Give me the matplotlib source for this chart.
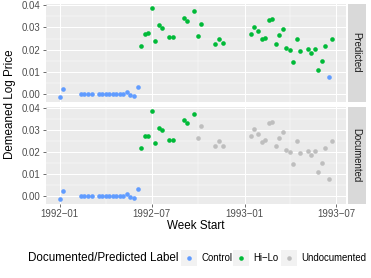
import matplotlib
matplotlib.use("Agg")
import matplotlib.pyplot as plt
import matplotlib.dates as mdates
from matplotlib.patches import Rectangle
from matplotlib.lines import Line2D
import numpy as np
import pandas as pd

plt.rcParams['font.family'] = ['Liberation Sans', 'DejaVu Sans']

# ---------------- data ----------------
week_index = [0, 1, 6, 7, 8, 9, 11, 12, 13, 14, 15, 16, 17, 18, 19, 20, 21, 22,
              23, 24, 25, 26, 27, 28, 29, 31, 32, 35, 36, 38, 39, 40, 44, 45, 46,
              54, 55, 56, 57, 58, 59, 60, 61, 62, 63, 64, 65, 66, 67, 68, 70, 71,
              72, 73, 74, 75, 76, 77]
log_price = [-0.0012, 0.0023, 0.0, 0.0, 0.0, 0.0, 0.0, 0.0, 0.0, 0.0, 0.0, 0.0,
             0.0, 0.0, 0.0009, -0.0003, -0.0006, 0.0033,
             0.0217, 0.0271, 0.0274, 0.0385, 0.0240, 0.0310, 0.0298, 0.0256,
             0.0256, 0.0342, 0.0330, 0.0372, 0.0262, 0.0316, 0.0226, 0.0249,
             0.0228,
             0.0271, 0.0304, 0.0282, 0.0247, 0.0253, 0.0331, 0.0337, 0.0226,
             0.0264, 0.0292, 0.0207, 0.0198, 0.0146, 0.0250, 0.0196, 0.0204,
             0.0186, 0.0204, 0.0110, 0.0150, 0.0216, 0.0080, 0.0250]
predicted_label = (['Control'] * 18 + ['Hi\u2212Lo'] * 17 + ['Hi\u2212Lo'] * 21
                   + ['Control', 'Hi\u2212Lo'])
documented_label = (['Control'] * 18 + ['Hi\u2212Lo'] * 12 + ['Undocumented'] * 5
                    + ['Undocumented'] * 23)

facet_names = ['Predicted', 'Documented']
label_levels = ['Control', 'Hi\u2212Lo', 'Undocumented']
label_colors = ['#619CFF', '#00BA38', '#BEBEBE']
x_tick_dates = ['1992-01-01', '1992-07-01', '1993-01-01', '1993-07-01']
x_tick_labels = ['1992\u221201', '1992\u221207', '1993\u221201', '1993\u221207']
x_minor_dates = ['1992-04-01', '1992-10-01', '1993-04-01']
y_ticks = [0.00, 0.01, 0.02, 0.03, 0.04]
y_tick_labels = ['0.00', '0.01', '0.02', '0.03', '0.04']
y_minor = [0.005, 0.015, 0.025, 0.035]

week_start = pd.Timestamp('1992-01-01') + pd.to_timedelta(np.array(week_index) * 7, unit='D')
df = pd.DataFrame({'week': week_start, 'price': log_price,
                   'Predicted': predicted_label, 'Documented': documented_label})

# ---------------- figure ----------------
W, H = 371, 278
fig = plt.figure(figsize=(W / 100, H / 100), dpi=100)
fig.patch.set_facecolor('white')

def fbox(x0, y0, x1, y1):
    return [x0 / W, 1 - y1 / H, (x1 - x0) / W, (y1 - y0) / H]

panels = [(4, 101.5), (106.5, 203.5)]
px0, px1 = 46, 346

xnum = mdates.date2num(df['week'])
xr = xnum.max() - xnum.min()
xlim = (xnum.min() - 0.05 * xr, xnum.max() + 0.05 * xr)
yr = max(log_price) - min(log_price)
ylim = (min(log_price) - 0.05 * yr, max(log_price) + 0.05 * yr)

tick_col = '#4D4D4D'
fs_small = 6.9
fs_title = 8.4

for i, (facet, (y0, y1)) in enumerate(zip(facet_names, panels)):
    ax = fig.add_axes(fbox(px0, y0, px1, y1))
    ax.set_facecolor('#EBEBEB')
    for s in ax.spines.values():
        s.set_visible(False)
    ax.set_xlim(xlim)
    ax.set_ylim(ylim)
    for xm in x_minor_dates:
        ax.axvline(mdates.datestr2num(xm), color='white', lw=0.35, zorder=0)
    for ym in y_minor:
        ax.axhline(ym, color='white', lw=0.35, zorder=0)
    for xm in x_tick_dates:
        ax.axvline(mdates.datestr2num(xm), color='white', lw=0.75, zorder=0)
    for ym in y_ticks:
        ax.axhline(ym, color='white', lw=0.75, zorder=0)
    for lev, col in zip(label_levels, label_colors):
        sub = df[df[facet] == lev]
        ax.scatter(mdates.date2num(sub['week']), sub['price'], s=11, color=col,
                   linewidths=0, zorder=3)
    ax.set_xticks([mdates.datestr2num(d) for d in x_tick_dates])
    ax.set_yticks(y_ticks)
    ax.set_yticklabels(y_tick_labels)
    ax.tick_params(axis='both', length=2.2, width=0.5, color='#333333',
                   labelsize=fs_small, labelcolor=tick_col, pad=1.5)
    if i == 1:
        ax.set_xticklabels(x_tick_labels)
    else:
        ax.tick_params(axis='x', length=0, labelbottom=False)
    # strip
    sax = fig.add_axes(fbox(347.5, y0, 366, y1))
    sax.set_facecolor('#D9D9D9')
    sax.set_xticks([])
    sax.set_yticks([])
    for s in sax.spines.values():
        s.set_visible(False)
    sax.text(0.5, 0.5, facet, rotation=-90, ha='center', va='center',
             fontsize=fs_small, color='#1A1A1A', transform=sax.transAxes)

# axis titles
fig.text(10 / W, 1 - 104 / H, 'Demeaned Log Price', rotation=90, ha='center',
         va='center', fontsize=fs_title, color='black')
fig.text(196 / W, 1 - 226 / H, 'Week Start', ha='center', va='center',
         fontsize=fs_title, color='black')

# legend
ly = 257.7
fig.text(28 / W, 1 - ly / H, 'Documented/Predicted Label', ha='left', va='center',
         fontsize=fs_title, color='black')
key_left = [181, 233, 281]
for kx, lev, col in zip(key_left, label_levels, label_colors):
    fig.patches.append(Rectangle((kx / W, 1 - (ly + 8) / H), 16 / W, 16 / H,
                                 transform=fig.transFigure, facecolor='#F2F2F2',
                                 edgecolor='none'))
    fig.lines.append(Line2D([(kx + 8) / W], [1 - ly / H], marker='o',
                            markersize=3.3, markeredgewidth=0, color=col,
                            transform=fig.transFigure))
    fig.text((kx + 20) / W, 1 - ly / H, lev, ha='left', va='center',
             fontsize=fs_small, color='black')

fig.savefig('out.png', dpi=100)
